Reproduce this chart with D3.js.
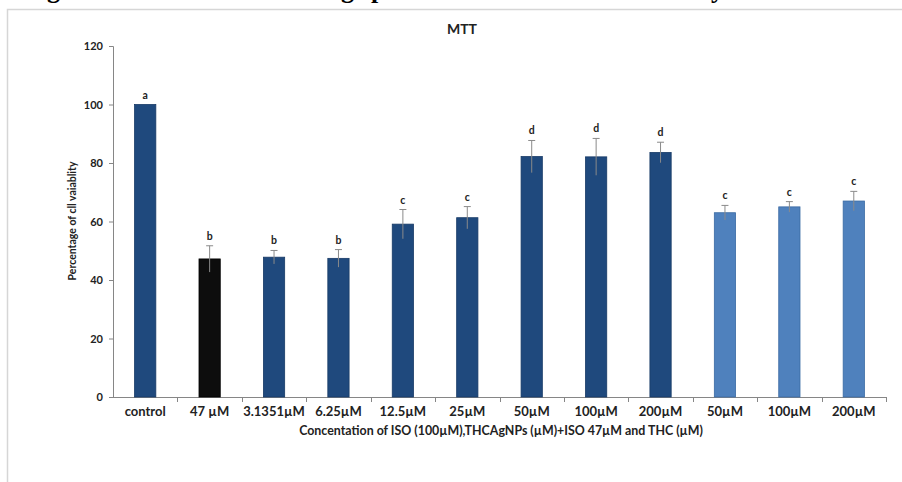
<!DOCTYPE html>
<html>
<head>
<meta charset="utf-8">
<script src="https://cdn.jsdelivr.net/npm/d3@7/dist/d3.min.js"></script>
<style>
  html, body { margin: 0; padding: 0; background: #fff; }
  svg { display: block; }
</style>
</head>
<body>
<svg id="chart" width="902" height="482"></svg>
<script>
// MTT cell viability per treatment
const categories = ["control", "47 µM", "3.1351µM", "6.25µM", "12.5µM", "25µM",
                    "50µM", "100µM", "200µM", "50µM", "100µM", "200µM"];
const viability = [100, 47.2, 47.8, 47.4, 59.1, 61.3, 82.2, 82.1, 83.6, 63.0, 65.0, 67.0];
const errors    = [0, 4.5, 2.3, 3.0, 5.0, 3.8, 5.5, 6.3, 3.5, 2.5, 1.8, 3.3];
const letters   = ["a", "b", "b", "b", "c", "c", "d", "d", "d", "c", "c", "c"];
const groups    = ["ctrl", "iso", "np", "np", "np", "np", "np", "np", "np", "thc", "thc", "thc"];
const yTicks    = [0, 20, 40, 60, 80, 100, 120];

const groupColor = { ctrl: "#1F497D", iso: "#0D0D0D", np: "#1F497D", thc: "#4F81BD" };
const groupStroke = { ctrl: "#173a66", iso: "#000000", np: "#173a66", thc: "#3A6AA3" };

const svg = d3.select("#chart");
const font = "Lato, 'Open Sans', sans-serif";

// frame around the figure panel
svg.append("path")
  .attr("d", "M7.5,482 V9.5 H902")
  .attr("fill", "none").attr("stroke", "#d6d6d6").attr("stroke-width", 1.5);

// tail of the caption line above the panel
const capG = svg.append("g");
svg.append("clipPath").attr("id", "capclip")
  .append("rect").attr("x", 0).attr("y", 0).attr("width", 902).attr("height", 8);
capG.attr("clip-path", "url(#capclip)");
[["g", 47], ["g", 341], ["p", 371], ["y", 711]].forEach(([ch, x]) => {
  capG.append("text").attr("x", x).attr("y", -2)
    .attr("font-family", "'Liberation Serif', 'DejaVu Serif', serif")
    .attr("font-weight", "bold").attr("font-size", 26).attr("fill", "#000")
    .text(ch);
});

const x = d3.scaleBand().domain(d3.range(categories.length))
  .range([113, 886]).paddingInner(0.67).paddingOuter(0.335);
const y = d3.scaleLinear().domain([0, 120]).range([397, 46]);

// title
svg.append("text").attr("x", 462).attr("y", 34).attr("text-anchor", "middle")
  .attr("font-family", font).attr("font-weight", "bold").attr("font-size", 14)
  .attr("fill", "#222").text("MTT");

// y axis
const yAxis = svg.append("g").attr("transform", "translate(113,0)")
  .call(d3.axisLeft(y).tickValues(yTicks).tickSize(4).tickPadding(6));
yAxis.select(".domain").attr("stroke", "#868686");
yAxis.selectAll(".tick line").attr("stroke", "#868686");
yAxis.selectAll(".tick text").attr("font-family", font).attr("font-weight", "bold")
  .attr("font-size", 11).attr("fill", "#222");

// x axis: line with ticks between categories
const boundaries = d3.range(1, categories.length + 1).map(i => x(i - 1) + x.bandwidth() / 2 + x.step() / 2);
svg.append("line").attr("x1", 113).attr("x2", 886).attr("y1", 397.5).attr("y2", 397.5)
  .attr("stroke", "#868686");
svg.append("g").selectAll("line").data(boundaries).join("line")
  .attr("x1", d => Math.round(d) + 0.5).attr("x2", d => Math.round(d) + 0.5)
  .attr("y1", 397).attr("y2", 402).attr("stroke", "#868686");

svg.append("g").selectAll("text").data(categories).join("text")
  .attr("x", (d, i) => x(i) + x.bandwidth() / 2)
  .attr("y", 416)
  .attr("text-anchor", "middle")
  .attr("font-family", font).attr("font-weight", "bold").attr("font-size", 13)
  .attr("fill", "#222").text(d => d);

// bars
svg.append("g").selectAll("rect").data(viability).join("rect")
  .attr("x", (d, i) => x(i)).attr("width", x.bandwidth())
  .attr("y", d => y(d)).attr("height", d => y(0) - y(d))
  .attr("fill", (d, i) => groupColor[groups[i]])
  .attr("stroke", (d, i) => groupStroke[groups[i]]).attr("stroke-width", 0.8);

// error bars
const eb = svg.append("g").attr("stroke", "#8a8a8a").attr("stroke-width", 1);
viability.forEach((v, i) => {
  if (!errors[i]) return;
  const cx = x(i) + x.bandwidth() / 2;
  eb.append("line").attr("x1", cx).attr("x2", cx)
    .attr("y1", y(v - errors[i])).attr("y2", y(v + errors[i]));
  eb.append("line").attr("x1", cx - 3.5).attr("x2", cx + 3.5)
    .attr("y1", y(v + errors[i])).attr("y2", y(v + errors[i]));
});

// significance letters
svg.append("g").selectAll("text").data(letters).join("text")
  .attr("x", (d, i) => x(i) + x.bandwidth() / 2)
  .attr("y", (d, i) => y(viability[i] + errors[i]) - 6)
  .attr("text-anchor", "middle")
  .attr("font-family", font).attr("font-weight", "bold").attr("font-size", 10.5)
  .attr("fill", "#222").text(d => d);

// axis titles
svg.append("text").attr("x", 501).attr("y", 435).attr("text-anchor", "middle")
  .attr("font-family", font).attr("font-weight", "bold").attr("font-size", 12.4)
  .attr("fill", "#222")
  .text("Concentation of ISO (100µM),THCAgNPs (µM)+ISO 47µM and THC (µM)");

svg.append("text")
  .attr("transform", "translate(76,221) rotate(-90)")
  .attr("text-anchor", "middle")
  .attr("font-family", font).attr("font-weight", "bold").attr("font-size", 10.5)
  .attr("fill", "#222").text("Percentage of cll vaiablity");
</script>
</body>
</html>
